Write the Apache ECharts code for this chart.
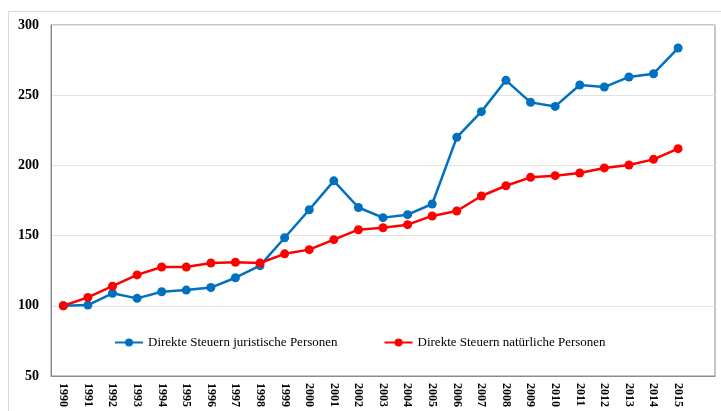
<!DOCTYPE html>
<html>
<head>
<meta charset="utf-8">
<script src="https://cdn.jsdelivr.net/npm/echarts@6/dist/echarts.min.js"></script>
<style>html,body{margin:0;padding:0;background:#fff;}#c{width:721px;height:411px;}</style>
</head>
<body>
<div id="c"></div>
<script>
const years = ['1990','1991','1992','1993','1994','1995','1996','1997','1998','1999','2000','2001','2002','2003','2004','2005','2006','2007','2008','2009','2010','2011','2012','2013','2014','2015',''];
const juristische = [100,100.5,108.9,105.3,110,111.2,113,120,128.6,148.5,168.4,189,170,162.8,164.9,172.5,220,238.3,260.6,244.9,242,257.3,255.8,263,265.3,283.6];
const natuerliche = [100,106,114,122,127.6,127.6,130.5,131,130.5,137,140,147.1,154.2,155.6,157.8,164,167.5,178.2,185.5,191.5,192.7,194.6,198.2,200.3,204.3,211.9];
const seriesNames = ['Direkte Steuern juristische Personen','Direkte Steuern natürliche Personen'];

const chart = echarts.init(document.getElementById('c'), null, {renderer:'canvas'});
chart.setOption({
  animation:false,
  backgroundColor:'#fff',
  graphic:[{type:'rect',left:6,top:9,shape:{width:730,height:420},style:{fill:'none',stroke:'#d9d9d9',lineWidth:1},z:-1}],
  grid:{left:51,right:6,top:25,bottom:35,show:true,borderColor:'#8c8c8c',borderWidth:1,backgroundColor:'transparent'},
  legend:{
    left:109, top:331, itemWidth:28, itemHeight:10, itemGap:46,
    textStyle:{fontFamily:'Liberation Serif',fontSize:13,color:'#000'},
    data:seriesNames
  },
  xAxis:{
    type:'category', data:years, boundaryGap:true,
    axisLine:{show:true,lineStyle:{color:'#8c8c8c'}},
    axisTick:{show:false},
    axisLabel:{interval:0,rotate:-90,margin:7,fontFamily:'Liberation Serif',fontWeight:'bold',fontSize:12,color:'#000'},
    splitLine:{show:false}
  },
  yAxis:{
    type:'value', min:50, max:300, interval:50,
    axisLine:{show:true,lineStyle:{color:'#8c8c8c'}},
    axisTick:{show:false},
    axisLabel:{margin:12,fontFamily:'Liberation Serif',fontWeight:'bold',fontSize:14,color:'#000'},
    splitLine:{show:true,lineStyle:{color:'#e3e3e3',width:1}}
  },
  series:[
    {name:seriesNames[0],type:'line',data:juristische,symbol:'circle',symbolSize:9,
     itemStyle:{color:'#0070C0'},lineStyle:{color:'#0070C0',width:2.5}},
    {name:seriesNames[1],type:'line',data:natuerliche,symbol:'circle',symbolSize:9,
     itemStyle:{color:'#FF0000'},lineStyle:{color:'#FF0000',width:2.5}}
  ]
});
</script>
</body>
</html>
